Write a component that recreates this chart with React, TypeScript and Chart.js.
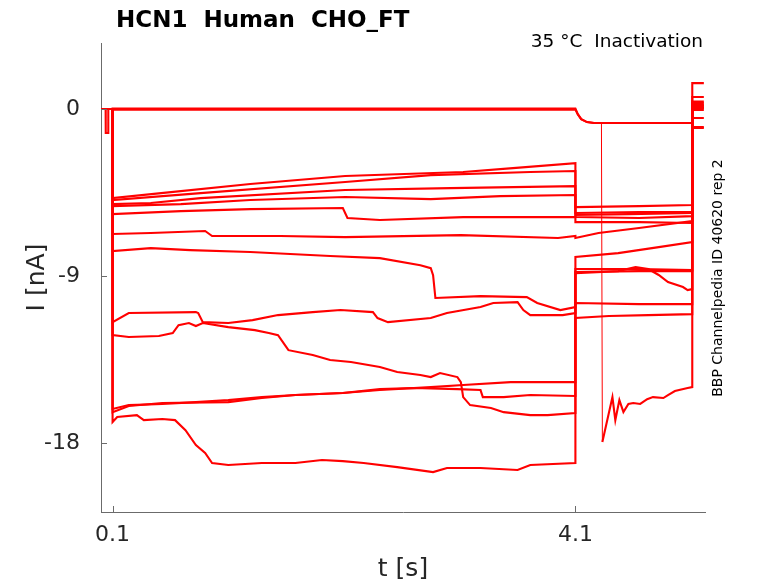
import { useEffect, useRef } from "react";
import { Chart, registerables } from "chart.js";

Chart.register(...registerables);

type P = [number, number];

// ---- axis ranges & ticks ----
const X_MIN = 0;
const X_MAX = 5.22;
const Y_MIN = -21.71;
const Y_MAX = 3.56;
const X_TICKS = [0.1, 4.1];
const Y_TICKS = [-18, -9, 0];

// ---- text ----
const TITLE = "HCN1  Human  CHO_FT";
const SUBTITLE = "35 °C  Inactivation";
const SIDE_NOTE = "BBP Channelpedia ID 40620 rep 2";
const X_LABEL = "t [s]";
const Y_LABEL = "I [nA]";

// ---- data: holding segment before 0.1 s ----
const PRE_FLAT: P[] = [[0, 0], [0.1, 0]];
const PRE_DIP: P[] = [[0, 0], [0.04, 0], [0.041, -1.29], [0.062, -1.29], [0.063, 0], [0.1, 0]];

// ---- data: first step (0.1 s – 4.1 s) ----
const STEP1_T0A: P[] = [[0.1, 0.03], [4.1, 0.03]];
const STEP1_T0B: P[] = [[0.1, -0.03], [4.1, -0.03]];
const STEP1_A: P[] = [[0.1, -4.8], [0.52, -4.53], [1.29, -4.04], [2.11, -3.61], [3.13, -3.39], [3.56, -3.18], [4.1, -2.91]];
const STEP1_B: P[] = [[0.1, -4.9], [0.86, -4.53], [2.11, -3.93], [2.85, -3.56], [3.71, -3.39], [4.1, -3.34]];
const STEP1_C: P[] = [[0.1, -5.12], [0.43, -5.06], [0.86, -4.8], [2.11, -4.36], [3.02, -4.26], [4.1, -4.15]];
const STEP1_D: P[] = [[0.1, -5.23], [0.69, -5.12], [1.29, -4.9], [2.11, -4.74], [2.85, -4.85], [3.45, -4.69], [4.1, -4.63]];
const STEP1_E: P[] = [[0.1, -5.66], [0.69, -5.5], [1.29, -5.39], [2.09, -5.33], [2.13, -5.87], [2.41, -5.98], [3.13, -5.82], [4.1, -5.82]];
const STEP1_F: P[] = [[0.1, -6.73], [0.43, -6.68], [0.9, -6.57], [0.96, -6.84], [1.55, -6.84], [2.11, -6.9], [3.11, -6.79], [3.95, -6.95], [4.1, -6.84]];
const STEP1_G: P[] = [[0.1, -7.65], [0.43, -7.49], [0.77, -7.6], [1.29, -7.7], [1.98, -7.92], [2.41, -8.03], [2.76, -8.41], [2.85, -8.57], [2.87, -8.95], [2.89, -10.18], [3.28, -10.08], [3.68, -10.13], [3.77, -10.45], [3.97, -10.83], [4.1, -10.67]];
const STEP1_H: P[] = [[0.1, -11.48], [0.24, -10.99], [0.82, -10.94], [0.84, -10.99], [0.88, -11.48], [1.1, -11.53], [1.31, -11.37], [1.53, -11.1], [1.83, -10.94], [2.07, -10.83], [2.35, -10.94], [2.39, -11.26], [2.48, -11.48], [2.85, -11.26], [2.99, -10.99], [3.28, -10.67], [3.39, -10.45], [3.6, -10.4], [3.65, -10.83], [3.71, -11.1], [3.99, -11.1], [4.1, -10.99]];
const STEP1_I: P[] = [[0.1, -12.18], [0.24, -12.28], [0.5, -12.23], [0.62, -12.07], [0.67, -11.64], [0.76, -11.53], [0.82, -11.69], [0.88, -11.53], [1.1, -11.75], [1.33, -11.91], [1.45, -12.07], [1.53, -12.18], [1.59, -12.72], [1.62, -12.99], [1.83, -13.25], [1.98, -13.52], [2.16, -13.63], [2.41, -13.9], [2.56, -14.17], [2.76, -14.33], [2.85, -14.44], [2.93, -14.22], [3.08, -14.44], [3.11, -14.71], [3.13, -15.52], [3.19, -15.95], [3.37, -16.11], [3.48, -16.33], [3.71, -16.49], [3.86, -16.49], [4.1, -16.38]];
const STEP1_J: P[] = [[0.1, -16.16], [0.24, -15.95], [0.53, -15.89], [0.82, -15.79], [1.1, -15.68], [1.39, -15.52], [1.68, -15.41], [2.09, -15.3], [2.41, -15.14], [2.85, -14.98], [3.13, -14.87], [3.54, -14.71], [4.1, -14.71]];
const STEP1_K: P[] = [[0.1, -16.33], [0.24, -16.0], [0.53, -15.84], [1.1, -15.79], [1.39, -15.57], [1.68, -15.41], [2.09, -15.3], [2.41, -15.09], [2.7, -15.03], [3.08, -15.09], [3.28, -15.14], [3.3, -15.52], [3.48, -15.52], [3.71, -15.41], [4.1, -15.46]];
const STEP1_L: P[] = [[0.1, -16.86], [0.14, -16.59], [0.31, -16.49], [0.37, -16.76], [0.53, -16.7], [0.64, -16.76], [0.73, -17.3], [0.82, -18.1], [0.9, -18.53], [0.96, -19.07], [1.1, -19.18], [1.39, -19.07], [1.68, -19.07], [1.91, -18.91], [2.09, -18.97], [2.27, -19.07], [2.56, -19.29], [2.87, -19.56], [2.99, -19.34], [3.28, -19.34], [3.6, -19.45], [3.71, -19.18], [4.1, -19.07]];

// ---- data: second step (4.1 s – 5.11 s) ----
const STEP2_T0A: P[] = [[4.1, 0.03], [4.12, -0.27], [4.15, -0.54], [4.2, -0.7], [4.26, -0.75], [5.11, -0.75]];
const STEP2_T0B: P[] = [[4.1, -0.03], [4.12, -0.27], [4.15, -0.54], [4.2, -0.7], [4.26, -0.75], [4.325, -0.75], [4.333, -17.94], [4.42, -15.52], [4.445, -16.76], [4.48, -15.68], [4.515, -16.33], [4.558, -15.89], [4.6, -15.84], [4.66, -15.89], [4.72, -15.63], [4.77, -15.52], [4.86, -15.57], [4.9, -15.41], [4.96, -15.19], [5.07, -15.03], [5.11, -14.98]];
const STEP2_A: P[] = [[4.1, -5.28], [4.65, -5.23], [5.11, -5.17]];
const STEP2_B: P[] = [[4.1, -5.6], [4.65, -5.55], [5.11, -5.55]];
const STEP2_C: P[] = [[4.1, -5.71], [4.56, -5.66], [5.11, -5.6]];
const STEP2_D: P[] = [[4.1, -5.82], [4.65, -5.87], [5.11, -5.77]];
const STEP2_E: P[] = [[4.1, -6.09], [4.65, -6.09], [5.11, -6.14]];
const STEP2_F: P[] = [[4.1, -6.95], [4.3, -6.68], [4.65, -6.41], [5.11, -6.03]];
const STEP2_G: P[] = [[4.1, -7.97], [4.47, -7.76], [4.82, -7.44], [5.11, -7.17]];
const STEP2_H: P[] = [[4.1, -8.62], [4.65, -8.62], [5.11, -8.67]];
const STEP2_I: P[] = [[4.1, -8.84], [4.47, -8.73], [4.62, -8.51], [4.73, -8.62], [4.82, -8.94], [4.9, -9.32], [5.03, -9.59], [5.07, -9.75], [5.11, -9.7]];
const STEP2_J: P[] = [[4.1, -8.78], [4.65, -8.73], [5.11, -8.73]];
const STEP2_K: P[] = [[4.1, -10.45], [4.65, -10.51], [5.11, -10.51]];
const STEP2_L: P[] = [[4.1, -11.26], [4.39, -11.15], [4.73, -11.1], [5.11, -11.05]];

// ---- data: final tail (5.11 s – 5.21 s) ----
const TAIL_T = [5.11, 5.21];
const TAIL_LEVELS = [1.4, 0.05, 0.32, 0.16, 0.05, -0.05, 0.25, 0.4, 0.65, 0.1, -0.48, 0.2, -0.97, -1.02];

const PRE_LIST: P[][] = [PRE_DIP, PRE_FLAT, PRE_FLAT, PRE_FLAT, PRE_FLAT, PRE_FLAT, PRE_FLAT, PRE_FLAT, PRE_FLAT, PRE_FLAT, PRE_FLAT, PRE_FLAT, PRE_FLAT, PRE_FLAT];
const STEP1_LIST: P[][] = [STEP1_T0A, STEP1_T0B, STEP1_A, STEP1_B, STEP1_C, STEP1_D, STEP1_E, STEP1_F, STEP1_G, STEP1_H, STEP1_I, STEP1_J, STEP1_K, STEP1_L];
const STEP2_LIST: P[][] = [STEP2_T0A, STEP2_T0B, STEP2_A, STEP2_B, STEP2_C, STEP2_D, STEP2_E, STEP2_F, STEP2_G, STEP2_H, STEP2_I, STEP2_J, STEP2_K, STEP2_L];

const TRACE_COLOR = "rgb(255,0,0)";
const AXIS_COLOR = "#6b6b6b";
const TEXT_COLOR = "#262626";
const FONT = '"DejaVu Sans", "Liberation Sans", sans-serif';

export default function App() {
  const ref = useRef<HTMLCanvasElement | null>(null);

  useEffect(() => {
    if (!ref.current) return;

    const datasets = STEP1_LIST.map((s1, i) => {
      const pts: P[] = [
        ...PRE_LIST[i],
        ...s1,
        ...STEP2_LIST[i],
        [TAIL_T[0], TAIL_LEVELS[i]],
        [TAIL_T[1], TAIL_LEVELS[i]],
      ];
      const hasThinDrop = i === 1;
      return {
        label: `trace ${i + 1}`,
        data: pts.map(([x, y]) => ({ x, y })),
        borderColor: TRACE_COLOR,
        backgroundColor: TRACE_COLOR,
        borderWidth: 2.1,
        pointRadius: 0,
        showLine: true,
        tension: 0,
        fill: false,
        segment: hasThinDrop
          ? {
              borderWidth: (c: any) =>
                Math.abs(c.p1.parsed.y - c.p0.parsed.y) > 5 && c.p0.parsed.x < 5 ? 1 : undefined,
            }
          : undefined,
      };
    });

    const textPlugin = {
      id: "matlabText",
      afterDraw(chart: any) {
        const { ctx, chartArea, scales } = chart;
        ctx.save();
        // inward tick marks
        ctx.strokeStyle = AXIS_COLOR;
        ctx.lineWidth = 1;
        ctx.beginPath();
        X_TICKS.forEach((v) => {
          const px = Math.round(scales.x.getPixelForValue(v)) + 0.5;
          ctx.moveTo(px, chartArea.bottom);
          ctx.lineTo(px, chartArea.bottom - 6);
        });
        Y_TICKS.forEach((v) => {
          const py = Math.round(scales.y.getPixelForValue(v)) + 0.5;
          ctx.moveTo(chartArea.left, py);
          ctx.lineTo(chartArea.left + 6, py);
        });
        ctx.stroke();

        // title
        ctx.fillStyle = "#000";
        ctx.font = `bold 23px ${FONT}`;
        ctx.textAlign = "left";
        ctx.textBaseline = "alphabetic";
        ctx.fillText(TITLE, 116, 27);

        // subtitle
        ctx.font = `18.5px ${FONT}`;
        ctx.textAlign = "right";
        ctx.fillText(SUBTITLE, 703, 47);

        // x label
        ctx.fillStyle = TEXT_COLOR;
        ctx.font = `25px ${FONT}`;
        ctx.textAlign = "center";
        ctx.fillText(X_LABEL, (chartArea.left + chartArea.right) / 2, 576);

        // y label
        ctx.save();
        ctx.translate(44, (chartArea.top + chartArea.bottom) / 2);
        ctx.rotate(-Math.PI / 2);
        ctx.textAlign = "center";
        ctx.fillText(Y_LABEL, 0, 0);
        ctx.restore();

        // side note
        ctx.save();
        ctx.fillStyle = "#000";
        ctx.font = `14px ${FONT}`;
        ctx.translate(722, 278);
        ctx.rotate(-Math.PI / 2);
        ctx.textAlign = "center";
        ctx.fillText(SIDE_NOTE, 0, 0);
        ctx.restore();

        ctx.restore();
      },
    };

    const chart = new Chart(ref.current, {
      type: "scatter",
      data: { datasets: datasets as any },
      options: {
        animation: false,
        responsive: false,
        events: [],
        layout: { padding: { left: 0, right: 73, top: 43, bottom: 0 } },
        plugins: { legend: { display: false }, title: { display: false }, tooltip: { enabled: false } },
        scales: {
          x: {
            type: "linear",
            min: X_MIN,
            max: X_MAX,
            afterBuildTicks: (s: any) => {
              s.ticks = X_TICKS.map((value) => ({ value }));
            },
            afterFit: (s: any) => {
              s.height = 71;
            },
            ticks: {
              autoSkip: false,
              maxRotation: 0,
              padding: 10,
              color: TEXT_COLOR,
              font: { family: FONT, size: 22 },
              callback: (v: any) => String(v),
            },
            grid: { display: false, drawTicks: false },
            border: { display: true, color: AXIS_COLOR, width: 1 },
          },
          y: {
            type: "linear",
            min: Y_MIN,
            max: Y_MAX,
            afterBuildTicks: (s: any) => {
              s.ticks = Y_TICKS.map((value) => ({ value }));
            },
            afterFit: (s: any) => {
              s.width = 101;
            },
            ticks: {
              autoSkip: false,
              padding: 21,
              color: TEXT_COLOR,
              font: { family: FONT, size: 22 },
              callback: (v: any) => String(v),
            },
            grid: { display: false, drawTicks: false },
            border: { display: true, color: AXIS_COLOR, width: 1 },
          },
        },
      },
      plugins: [textPlugin],
    });

    return () => chart.destroy();
  }, []);

  return (
    <div style={{ position: "absolute", left: 0, top: 0, width: 778, height: 583, background: "#fff" }}>
      <canvas ref={ref} width={778} height={583} style={{ display: "block" }} />
    </div>
  );
}
